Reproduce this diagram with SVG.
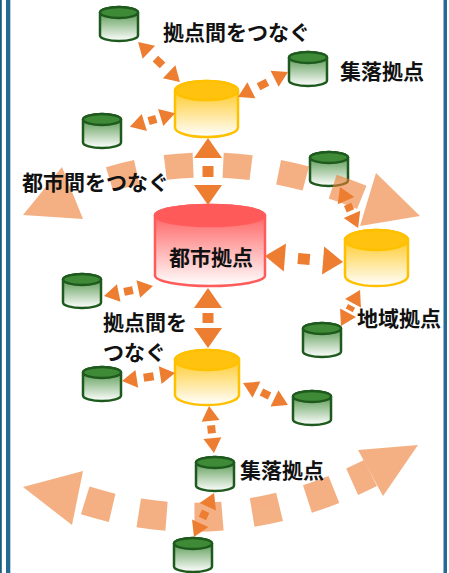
<svg xmlns="http://www.w3.org/2000/svg" xmlns:xlink="http://www.w3.org/1999/xlink" width="449" height="573" viewBox="0 0 449 573">
<style>
.lbl{font-family:"Noto Sans CJK JP","Noto Sans CJK SC",sans-serif;font-weight:bold;font-size:21px;fill:#111}
.con{fill:none;stroke:#ED7D31;stroke-width:8}
.conb{fill:none;stroke:#ED7D31;stroke-width:11}
.gc-body{fill:url(#gG);stroke:#1E5A1E;stroke-width:2.5}
.gc-top{fill:#3F8A37;stroke:#1E5A1E;stroke-width:2.5}
.yc-body{fill:url(#gY);stroke:#FFC000;stroke-width:2.5}
.yc-top{fill:#FFC20E;stroke:#FFC000;stroke-width:2.5}
</style>
<defs>
<linearGradient id="gG" x1="0" y1="0" x2="0" y2="1"><stop offset="0" stop-color="#3F8A37"/><stop offset="1" stop-color="#FFFFFF"/></linearGradient>
<linearGradient id="gY" x1="0" y1="0" x2="0" y2="1"><stop offset="0" stop-color="#FFC000"/><stop offset="1" stop-color="#FFFFFF"/></linearGradient>
<linearGradient id="gR" x1="0" y1="0" x2="0" y2="1"><stop offset="0" stop-color="#FF5050"/><stop offset="1" stop-color="#FFFFFF"/></linearGradient>
<g id="gcyl">
<path class="gc-body" d="M0,5.5 V28.5 A19,5.5 0 0 0 38,28.5 V5.5 A19,5.5 0 0 0 0,5.5 Z"/>
<ellipse class="gc-top" cx="19" cy="5.5" rx="19" ry="5.5"/>
</g>
<marker id="ah" markerUnits="userSpaceOnUse" markerWidth="16" markerHeight="20" refX="0" refY="10" orient="auto-start-reverse" overflow="visible"><path d="M0,1 L15,10 L0,19 Z" fill="#ED7D31"/></marker>
<marker id="ahb" markerUnits="userSpaceOnUse" markerWidth="21" markerHeight="28" refX="0" refY="14" orient="auto-start-reverse" overflow="visible"><path d="M0,0 L20,14 L0,28 Z" fill="#ED7D31"/></marker>
</defs>
<rect width="449" height="573" fill="#FFFFFF"/>
<g id="frame">
<rect x="0" y="0" width="1.8" height="573" fill="#1B5B80"/>
<rect x="6" y="0" width="4" height="573" fill="#236A94"/>
<rect x="10" y="0" width="0.8" height="573" fill="#A9C6DB"/>
<rect x="443.5" y="0" width="3.5" height="573" fill="#236A94"/>
</g>
<g id="node-village-1"><use xlink:href="#gcyl" x="100" y="7"/></g>
<g id="node-village-2"><use xlink:href="#gcyl" x="289" y="52"/></g>
<g id="node-village-3"><use xlink:href="#gcyl" x="83" y="114"/></g>
<g id="node-village-4"><use xlink:href="#gcyl" x="310" y="152"/></g>
<g id="node-village-5"><use xlink:href="#gcyl" x="63" y="274"/></g>
<g id="node-village-6"><use xlink:href="#gcyl" x="303" y="323"/></g>
<g id="node-village-7"><use xlink:href="#gcyl" x="83" y="367"/></g>
<g id="node-village-8"><use xlink:href="#gcyl" x="293" y="391"/></g>
<g id="node-village-9"><use xlink:href="#gcyl" x="196" y="457"/></g>
<g id="node-village-10"><use xlink:href="#gcyl" x="174" y="538"/></g>
<g id="node-regional-top">
<path class="yc-body" d="M175,90.5 V127.5 A31.5,9.5 0 0 0 238,127.5 V90.5 A31.5,9.5 0 0 0 175,90.5 Z"/>
<ellipse class="yc-top" cx="206.5" cy="90.5" rx="31.5" ry="9.5"/>
</g>
<g id="node-regional-right">
<path class="yc-body" d="M345,240 V276 A31.5,10 0 0 0 408,276 V240 A31.5,10 0 0 0 345,240 Z"/>
<ellipse class="yc-top" cx="376.5" cy="240" rx="31.5" ry="10"/>
</g>
<g id="node-regional-bottom">
<path class="yc-body" d="M175,360 V395 A32,10 0 0 0 239,395 V360 A32,10 0 0 0 175,360 Z"/>
<ellipse class="yc-top" cx="207" cy="360" rx="32" ry="10"/>
</g>
<g id="node-city">
<path d="M155,215.5 V275.5 A55,10.5 0 0 0 265,275.5 V215.5 A55,10.5 0 0 0 155,215.5 Z" fill="url(#gR)" stroke="#FF5B5B" stroke-width="2.5"/>
<ellipse cx="210" cy="215.5" rx="55" ry="10.5" fill="#FF5A5A" stroke="#FF5B5B" stroke-width="2.5"/>
<text class="lbl" x="211" y="265" text-anchor="middle">都市拠点</text>
</g>
<g id="flows" opacity="0.6">
<path d="M72,193 Q210,133.5 368,200" fill="none" stroke="#ED7D31" stroke-width="25" stroke-dasharray="0 40 28 29 28 30 28 28 28 28 31 60"/>
<polygon points="23,215 62,167 83,219" fill="#ED7D31"/>
<polygon points="420,216 376,173 360,226" fill="#ED7D31"/>
<path d="M77.5,498 Q224,546.5 370.5,473" fill="none" stroke="#ED7D31" stroke-width="29" stroke-dasharray="0 8 28 27 28 28 28 30 28 29 28 20 22 40"/>
<polygon points="23,487 83,471 72,525" fill="#ED7D31"/>
<polygon points="418,445 358,450 383,496" fill="#ED7D31"/>
</g>
<g id="connectors">
<line class="con" x1="148.9" y1="52.3" x2="169.1" y2="71.7" stroke-dasharray="0 9 10 99" marker-start="url(#ah)" marker-end="url(#ah)"/>
<line class="con" x1="274.6" y1="78.7" x2="251.4" y2="90.3" stroke-dasharray="0 8 10 99" marker-start="url(#ah)" marker-end="url(#ah)"/>
<line class="con" x1="144.3" y1="122.5" x2="160.7" y2="117.5" stroke-dasharray="0 4.5 8 99" marker-start="url(#ah)" marker-end="url(#ah)"/>
<line class="conb" x1="208" y1="158" x2="208" y2="185" stroke-dasharray="0 8 11 99" marker-start="url(#ahb)" marker-end="url(#ahb)"/>
<line class="conb" x1="284.9" y1="257.5" x2="323.1" y2="260.5" stroke-dasharray="0 13 12 99" marker-start="url(#ahb)" marker-end="url(#ahb)"/>
<line class="con" x1="118.7" y1="293" x2="138.3" y2="289" stroke-dasharray="0 5.5 9 99" marker-start="url(#ah)" marker-end="url(#ah)"/>
<line class="conb" x1="208" y1="308" x2="208" y2="328" stroke-dasharray="0 5 10 99" marker-start="url(#ahb)" marker-end="url(#ahb)"/>
<line class="con" x1="136.8" y1="378.8" x2="160.2" y2="375.2" stroke-dasharray="0 7 10 99" marker-start="url(#ah)" marker-end="url(#ah)"/>
<line class="con" x1="256.5" y1="389.6" x2="274.5" y2="398.4" stroke-dasharray="0 5.5 9 99" marker-start="url(#ah)" marker-end="url(#ah)"/>
<line class="con" x1="210.6" y1="420.9" x2="212.4" y2="438.1" stroke-dasharray="0 4.5 8 99" marker-start="url(#ah)" marker-end="url(#ah)"/>
<line class="con" x1="207.8" y1="506.7" x2="200.2" y2="523.3" stroke-dasharray="0 5 8 99" marker-start="url(#ah)" marker-end="url(#ah)"/>
<line class="con" x1="353" y1="303.3" x2="348" y2="312.7" stroke-dasharray="0 3 5 99" marker-start="url(#ah)" marker-end="url(#ah)"/>
<line class="con" x1="346" y1="200.7" x2="352" y2="214.3" stroke-dasharray="0 4 7 99" marker-start="url(#ah)" marker-end="url(#ah)"/>
</g>
<g id="labels">
<text class="lbl" x="163" y="40">拠点間をつなぐ</text>
<text class="lbl" x="340" y="79">集落拠点</text>
<text class="lbl" x="22" y="190">都市間をつなぐ</text>
<text class="lbl" x="357" y="326">地域拠点</text>
<text class="lbl" x="103" y="329.5">拠点間を<tspan x="103" dy="30.5">つなぐ</tspan></text>
<text class="lbl" x="240" y="478">集落拠点</text>
</g>
</svg>
